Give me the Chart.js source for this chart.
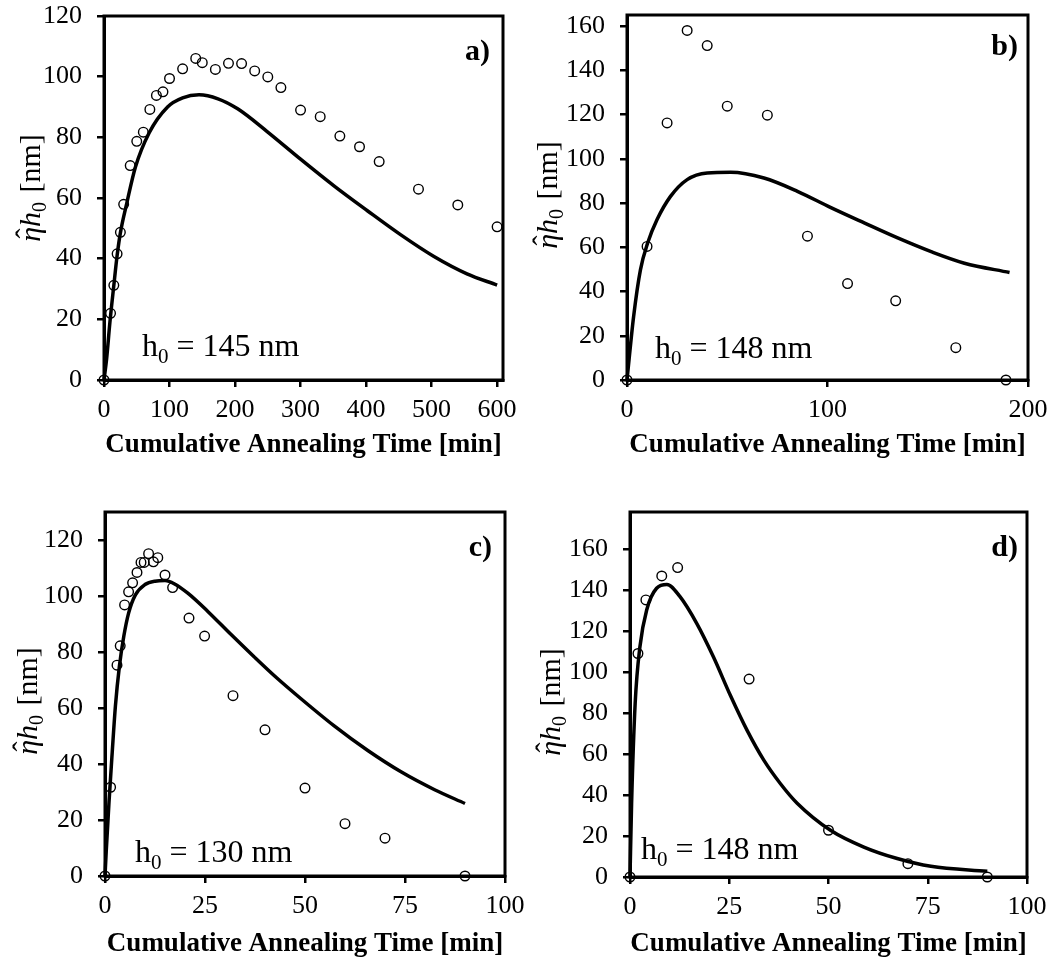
<!DOCTYPE html>
<html>
<head>
<meta charset="utf-8">
<script src="https://cdn.jsdelivr.net/npm/chart.js@4.4.1/dist/chart.umd.min.js"></script>
<style>
  body { margin: 0; background: #fff; width: 1063px; height: 964px; position: relative; overflow: hidden; }
  canvas { position: absolute; }
</style>
</head>
<body>
<canvas id="cA" width="531" height="470" style="left:0;top:0"></canvas>
<canvas id="cB" width="532" height="470" style="left:531px;top:0"></canvas>
<canvas id="cC" width="531" height="494" style="left:0;top:470px"></canvas>
<canvas id="cD" width="532" height="494" style="left:531px;top:470px"></canvas>
<script>
// a) h0 = 145 nm
const timeA = [0,10,15,20,25,30,40,50,60,70,80,90,100,120,140,150,170,190,210,230,250,270,300,330,360,390,420,480,540,600];
const etaA  = [0,22,31.2,41.6,48.7,57.9,70.7,78.7,81.7,89.2,93.8,95,99.4,102.6,106,104.6,102.4,104.4,104.3,101.9,99.9,96.4,89,86.8,80.4,76.9,72,62.9,57.7,50.5];
const fitTimeA = [0,4,9,15,20,25,35,48,69,97,120,145,174,204,249,300,351,402,452,503,554,600];
const fitEtaA  = [0,7,19,31.2,41,48.5,58.5,70.2,81.5,90,93,94,92.7,89.4,81.9,72.8,64,55.8,48,40.8,35,31.3];
const xTicksA = [0,100,200,300,400,500,600];
const yTicksA = [0,20,40,60,80,100,120];

// b) h0 = 148 nm
const timeB = [0,10,20,30,40,50,70,90,110,134,164,189];
const etaB  = [0,60.4,116.2,158,151.2,123.8,119.7,65,43.6,35.8,14.6,0];
const fitTimeB = [0,3.3,6.7,10.3,15,21.7,30,40,51.7,68.3,85,101.7,118.3,135,151.7,168.3,190.8];
const fitEtaB  = [0,28.7,49.8,61.9,72.5,83,90.6,93.6,93.9,91.3,85.3,77.9,71,64.2,58,52.8,48.6];
const xTicksB = [0,100,200];
const yTicksB = [0,20,40,60,80,100,120,140,160];

// c) h0 = 130 nm
const timeC = [0,1.4,3,3.8,4.9,5.9,6.9,8,9,9.8,10.9,12.1,13.2,15,16.9,21,24.9,32,40,50,60,70,90];
const etaC  = [0,31.7,75.3,82.2,96.8,101.5,104.7,108.4,112,112,115.1,112.2,113.7,107.5,103,92.1,85.7,64.4,52.2,31.4,18.7,13.5,0];
const fitTimeC = [0,0.3,1,1.8,2.6,3.6,4.7,5.9,7.6,10,12.5,15,17.4,20.7,25.7,31.4,37.2,42.9,49,57.3,65.7,74,82.4,90];
const fitEtaC  = [0,8.6,26.4,44.1,60.7,74.9,85.6,93.9,100.4,104.1,105.3,105.5,104.3,101,94.5,86.4,78.4,70.8,63.3,53.6,44.8,37.2,30.8,25.9];
const xTicksC = [0,25,50,75,100];
const yTicksC = [0,20,40,60,80,100,120];

// d) h0 = 148 nm
const timeD = [0,2,4,8,12,30,50,70,90];
const etaD  = [0,109,135.1,146.8,150.9,96.5,22.8,6.5,0];
const fitTimeD = [0,0.4,1.3,2.5,4.2,6.7,9.3,12.6,16.8,21,25.3,29.5,33.7,37.9,42.1,50.5,58.9,67.3,75.8,90];
const fitEtaD  = [0,35.8,84.6,112.3,130.2,140.8,142.7,136.7,123.7,107.4,88.5,71.5,57,45.5,36,22.8,14.6,9,5.2,2.8];
const xTicksD = [0,25,50,75,100];
const yTicksD = [0,20,40,60,80,100,120,140,160];

const SERIF = '"Liberation Serif", "Times New Roman", serif';
const xTitle = 'Cumulative Annealing Time [min]';

const pairs = (xs, ys) => xs.map((x, i) => ({ x: x, y: ys[i] }));

// frame round the plot area, panel letter, h0 note and the y title
const decoPlugin = {
  id: 'deco',
  afterDraw(chart, args, o) {
    const ctx = chart.ctx;
    const a = chart.chartArea;
    ctx.save();
    ctx.strokeStyle = '#000';
    ctx.lineWidth = 3;
    ctx.strokeRect(a.left, a.top, a.right - a.left, a.bottom - a.top);
    ctx.fillStyle = '#000';

    ctx.font = 'bold 30px ' + SERIF;
    ctx.textAlign = 'right';
    ctx.textBaseline = 'alphabetic';
    ctx.fillText(o.letter, a.right - o.letterInset, a.top + o.letterY);

    // h0 = ... nm
    ctx.textAlign = 'left';
    let x = a.left + o.noteX;
    const yb = a.bottom - o.noteY;
    ctx.font = '32px ' + SERIF;
    ctx.fillText('h', x, yb);
    x += ctx.measureText('h').width;
    ctx.font = '21px ' + SERIF;
    ctx.fillText('0', x, yb + 7);
    x += ctx.measureText('0').width;
    ctx.font = '32px ' + SERIF;
    ctx.fillText(' = ' + o.h0 + ' nm', x, yb);

    // y title, rotated
    ctx.translate(o.titleX, o.titleY);
    ctx.rotate(-Math.PI / 2);
    const fIt = 'italic 30px ' + SERIF;
    const fUp = '30px ' + SERIF;
    const fSub = '20px ' + SERIF;
    ctx.font = fIt;
    const wEta = ctx.measureText('η').width;
    const wH = ctx.measureText('h').width;
    ctx.font = fSub;
    const w0 = ctx.measureText('0').width;
    ctx.font = fUp;
    const wNm = ctx.measureText(' [nm]').width;
    let tx = -(wEta + wH + w0 + wNm + 2) / 2;
    const by = 10;
    ctx.font = fIt;
    ctx.fillText('η', tx, by);
    ctx.font = fUp;
    ctx.textAlign = 'center';
    ctx.fillText('ˆ', tx + wEta / 2 + 1, by - 4);
    ctx.textAlign = 'left';
    tx += wEta;
    ctx.font = fIt;
    ctx.fillText('h', tx, by);
    tx += wH;
    ctx.font = fSub;
    ctx.fillText('0', tx, by + 6);
    tx += w0 + 2;
    ctx.font = fUp;
    ctx.fillText(' [nm]', tx, by);
    ctx.restore();
  }
};

function makePanel(id, p) {
  new Chart(document.getElementById(id), {
    type: 'scatter',
    data: {
      datasets: [
        {
          type: 'line',
          data: pairs(p.fitTime, p.fitEta),
          borderColor: '#000',
          borderWidth: 3.5,
          pointRadius: 0,
          cubicInterpolationMode: 'monotone',
          fill: false,
          clip: false
        },
        {
          data: pairs(p.time, p.eta),
          pointStyle: 'circle',
          pointRadius: 4.8,
          borderWidth: 1.4,
          borderColor: '#000',
          backgroundColor: 'rgba(0,0,0,0)',
          clip: false
        }
      ]
    },
    options: {
      responsive: false,
      animation: false,
      layout: { padding: p.pad },
      plugins: {
        legend: { display: false },
        tooltip: { enabled: false },
        deco: p.deco
      },
      scales: {
        x: {
          type: 'linear',
          min: 0,
          max: p.xMax,
          afterBuildTicks: s => { s.ticks = p.xTicks.map(v => ({ value: v })); },
          afterFit: s => { s.height = p.xH; s.paddingLeft = 0; s.paddingRight = 0; },
          ticks: { color: '#000', font: { family: SERIF, size: 26 }, padding: 8, autoSkip: false, maxRotation: 0 },
          grid: { display: true, drawOnChartArea: false, drawTicks: true, tickLength: 7, lineWidth: 2.5, color: '#000' },
          border: { display: true, color: '#000', width: 3 },
          title: { display: true, text: xTitle, color: '#000', font: { family: SERIF, size: 27, weight: 'bold' }, padding: { top: 4, bottom: 4 } }
        },
        y: {
          type: 'linear',
          min: 0,
          max: p.yMax,
          afterBuildTicks: s => { s.ticks = p.yTicks.map(v => ({ value: v })); },
          afterFit: s => { s.width = p.yW; s.paddingTop = 0; s.paddingBottom = 0; },
          ticks: { color: '#000', font: { family: SERIF, size: 26 }, padding: 15 },
          grid: { display: true, drawOnChartArea: false, drawTicks: true, tickLength: 7, lineWidth: 2.5, color: '#000' },
          border: { display: true, color: '#000', width: 3 }
        }
      }
    },
    plugins: [decoPlugin]
  });
}

makePanel('cA', {
  time: timeA, eta: etaA, fitTime: fitTimeA, fitEta: fitEtaA,
  xTicks: xTicksA, yTicks: yTicksA, xMax: 609, yMax: 120,
  pad: { top: 16, left: 0, right: 28, bottom: 5 }, yW: 104, xH: 85,
  deco: { letter: 'a)', letterInset: 13, letterY: 44, h0: '145', noteX: 38, noteY: 24, titleX: 30, titleY: 188 }
});
makePanel('cB', {
  time: timeB, eta: etaB, fitTime: fitTimeB, fitEta: fitEtaB,
  xTicks: xTicksB, yTicks: yTicksB, xMax: 200, yMax: 165,
  pad: { top: 15, left: 0, right: 35, bottom: 5 }, yW: 96, xH: 85,
  deco: { letter: 'b)', letterInset: 10, letterY: 40, h0: '148', noteX: 28, noteY: 22, titleX: 16, titleY: 195 }
});
makePanel('cC', {
  time: timeC, eta: etaC, fitTime: fitTimeC, fitEta: fitEtaC,
  xTicks: xTicksC, yTicks: yTicksC, xMax: 100, yMax: 130,
  pad: { top: 42, left: 0, right: 26, bottom: 0 }, yW: 105, xH: 88,
  deco: { letter: 'c)', letterInset: 13, letterY: 44, h0: '130', noteX: 30, noteY: 14, titleX: 27, titleY: 231 }
});
makePanel('cD', {
  time: timeD, eta: etaD, fitTime: fitTimeD, fitEta: fitEtaD,
  xTicks: xTicksD, yTicks: yTicksD, xMax: 100, yMax: 178,
  pad: { top: 42, left: 0, right: 36, bottom: 0 }, yW: 99, xH: 87,
  deco: { letter: 'd)', letterInset: 9, letterY: 44, h0: '148', noteX: 11, noteY: 18, titleX: 19, titleY: 232 }
});
</script>
</body>
</html>
